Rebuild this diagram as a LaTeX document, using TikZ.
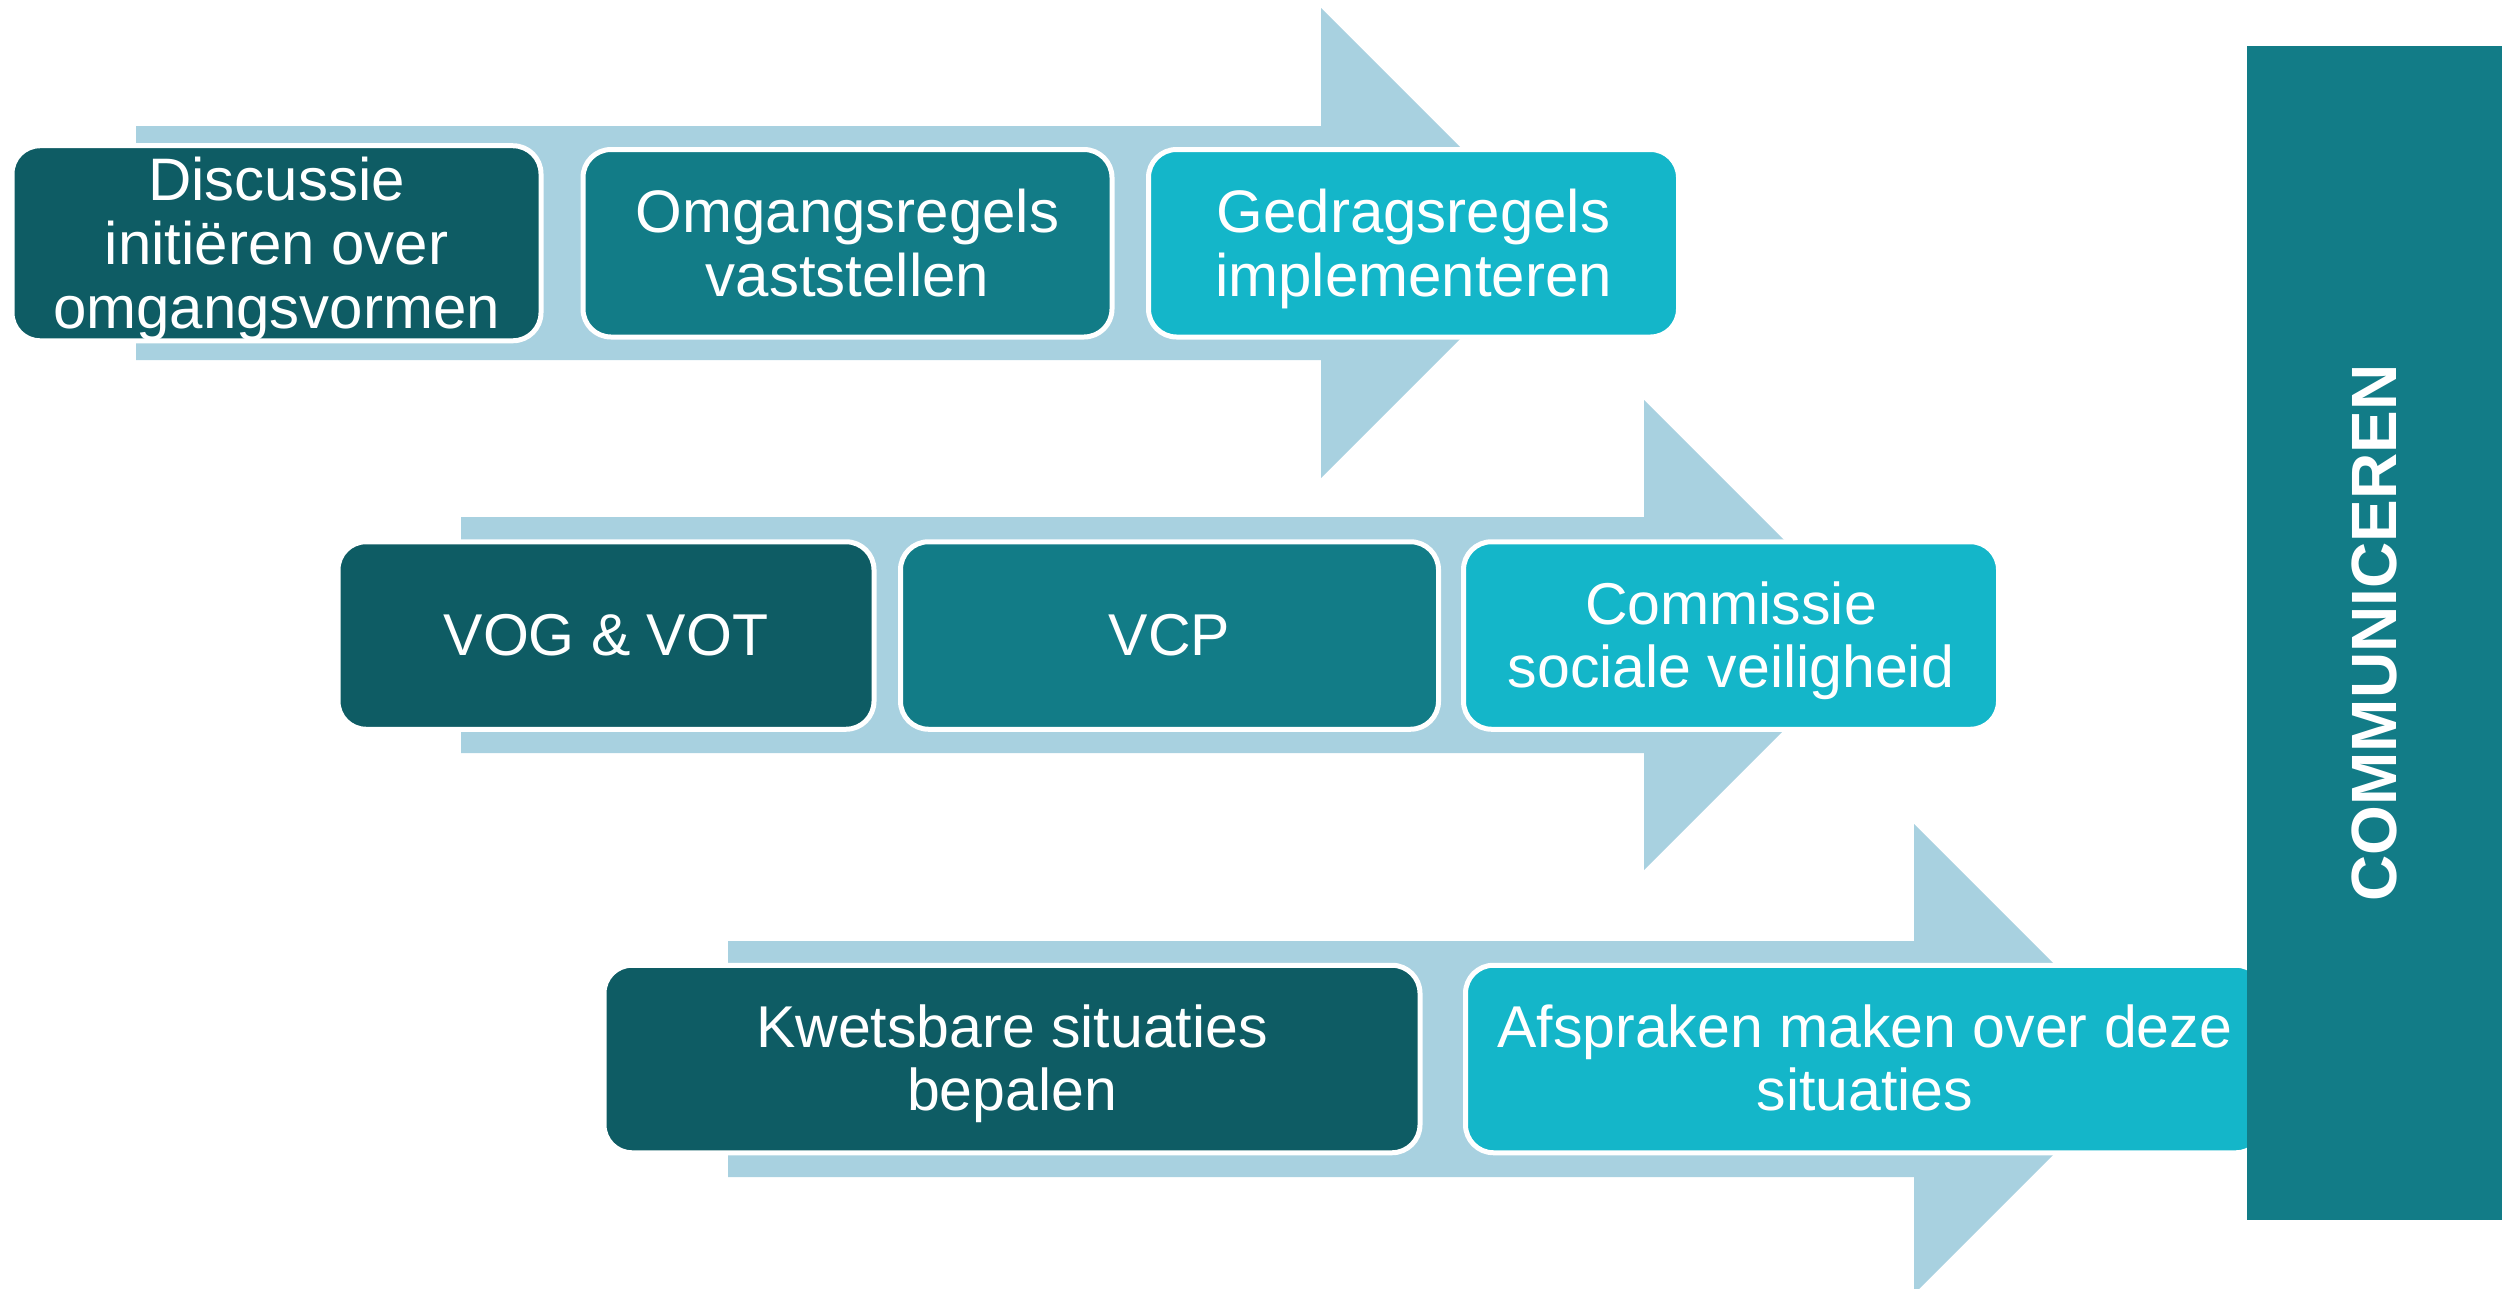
\documentclass[tikz,border=0pt]{standalone}
\usepackage{fontspec}
\setmainfont{Liberation Sans}
\definecolor{cdark}{RGB}{14,92,100}
\definecolor{cmid}{RGB}{18,124,135}
\definecolor{clight}{RGB}{20,182,201}
\definecolor{carrow}{RGB}{168,209,224}
\newcommand\myst{\rule[-0.212em]{0pt}{1.117em}}
\AtBeginDocument{\lineskiplimit=-1000pt}
\tikzset{
  stage/.style={draw=white, line width=5pt, rounded corners=28pt, inner sep=0pt,
    text=white, align=center, minimum height=187.5pt,
    font=\fontsize{60}{64}\selectfont},
  smallstage/.style={stage, font=\fontsize{59}{63}\selectfont},
  band/.style={fill=carrow},
  commbar/.style={fill=cmid, inner sep=0pt, text=white, rotate=90,
    font=\bfseries\fontsize{64}{64}\selectfont},
}
\begin{document}
\begin{tikzpicture}[x=1pt,y=-1pt]
\useasboundingbox (0,0) rectangle (2511,1288);
\clip (0,0) rectangle (2511,1288);
% arrows
\fill[band] (136,126) -- (1321,126) -- (1321,8) -- (1556,243) -- (1321,478) -- (1321,360) -- (136,360) -- cycle;
\fill[band] (461,517) -- (1644,517) -- (1644,400) -- (1879,635) -- (1644,870) -- (1644,753) -- (461,753) -- cycle;
\fill[band] (728,941) -- (1914,941) -- (1914,824) -- (2149,1059) -- (1914,1294) -- (1914,1177) -- (728,1177) -- cycle;
% row 1
\node[stage, fill=cdark, minimum width=529pt] (b1) at (276.5,243.25)
  {{\myst}Discussie\\{\myst}initiëren over\\{\myst}omgangsvormen};
\node[stage, fill=cmid, minimum width=529pt] (b2) at (847.5,243.25)
  {{\myst}Omgangsregels\\{\myst}vaststellen};
\node[stage, fill=clight, minimum width=530pt] (b3) at (1413.5,243.25)
  {{\myst}Gedragsregels\\{\myst}implementeren};
% row 2
\node[smallstage, fill=cdark, minimum width=536pt] (b4) at (606,635.5)
  {{\myst}VOG \& VOT};
\node[smallstage, fill=cmid, minimum width=538pt] (b5) at (1169.5,635.5)
  {{\myst}VCP};
\node[smallstage, fill=clight, minimum width=535pt] (b6) at (1731,635.5)
  {{\myst}Commissie\\{\myst}sociale veiligheid};
% row 3
\node[smallstage, fill=cdark, minimum width=816pt] (b7) at (1012,1059)
  {{\myst}Kwetsbare situaties\\{\myst}bepalen};
\node[smallstage, fill=clight, minimum width=798.5pt] (b8) at (1864.75,1059)
  {{\myst}Afspraken maken over deze\\{\myst}situaties};
% side bar
\node[commbar, minimum width=1174pt, minimum height=255pt] (comm) at (2374.5,633)
  {COMMUNICEREN};
\end{tikzpicture}
\end{document}
